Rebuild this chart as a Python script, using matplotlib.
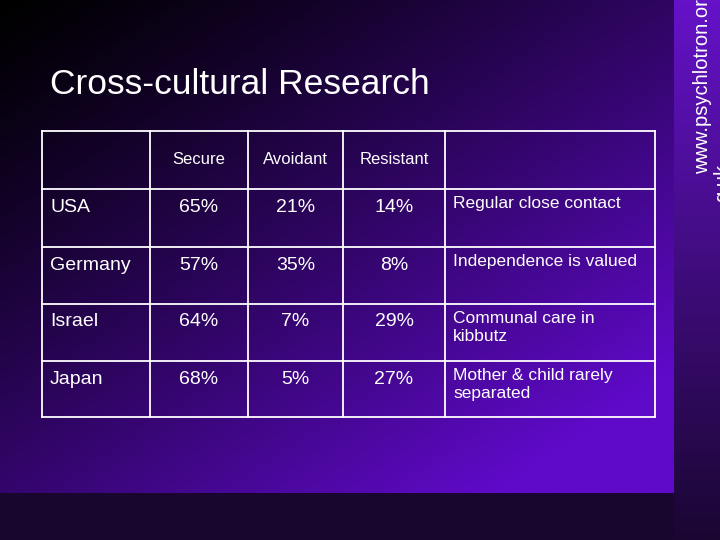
import numpy as np
import matplotlib
matplotlib.use('Agg')
from matplotlib import pyplot as plt
from matplotlib.colors import to_rgb

title = 'Cross-cultural Research'
columns = ['Secure', 'Avoidant', 'Resistant']
countries = ['USA', 'Germany', 'Israel', 'Japan']
secure = ['65%', '57%', '64%', '68%']
avoidant = ['21%', '35%', '7%', '5%']
resistant = ['14%', '8%', '29%', '27%']
notes = ['Regular close contact', 'Independence is valued',
         'Communal care in\nkibbutz', 'Mother & child rarely\nseparated']
watermark = ['www.psychlotron.or', 'g.uk']

W, H = 720, 540
fig = plt.figure(figsize=(W / 100, H / 100), dpi=100)
ax = fig.add_axes([0, 0, 1, 1])
ax.set_xlim(0, W)
ax.set_ylim(H, 0)
ax.axis('off')

# background: dark frame, then diagonal gradient panel and right strip
ax.imshow(np.ones((2, 2, 3)) * np.array(to_rgb('#18062e')), extent=[0, W, H, 0], zorder=0)
px, py = 674, 493
yy, xx = np.mgrid[0:1:200j, 0:1:200j]
t = np.clip(0.55 * xx + 0.6 * yy, 0, 1) ** 1.2
c0, c1 = np.array(to_rgb('#000000')), np.array(to_rgb('#5f0ac8'))
grad = c0 + (c1 - c0) * t[..., None]
ax.imshow(grad, extent=[0, px, py, 0], zorder=1, aspect='auto')
ts = np.linspace(0, 1, 200)[:, None, None]
s0, s1 = np.array(to_rgb('#6512c8')), np.array(to_rgb('#1a0632'))
strip = s0 + (s1 - s0) * ts
ax.imshow(strip, extent=[px, W, H, 0], zorder=1, aspect='auto')

ax.text(50, 84, title, color='white', fontsize=25.5, family='Liberation Sans',
        va='center', ha='left', zorder=3)
ax.text(703, 174, watermark[0], color='white', fontsize=14.5, family='Liberation Sans',
        rotation=90, va='bottom', ha='center', zorder=3)
ax.text(723, 202, watermark[1], color='white', fontsize=14.5, family='Liberation Sans',
        rotation=90, va='bottom', ha='center', zorder=3)

# table grid
xs = [42, 150, 248, 343, 445, 655]
ys = [131, 189, 247, 304, 361, 417]
for x in xs:
    ax.plot([x, x], [ys[0], ys[-1]], color='white', lw=1.3, zorder=3)
for y in ys:
    ax.plot([xs[0], xs[-1]], [y, y], color='white', lw=1.3, zorder=3)

kw = dict(color='white', family='Liberation Sans', zorder=4)
for j, name in enumerate(columns):
    ax.text((xs[j + 1] + xs[j + 2]) / 2, 160, name, ha='center', va='center', fontsize=12, **kw)
for i, c in enumerate(countries):
    y = ys[i + 1] + 18
    ax.text(xs[0] + 8, y, c, ha='left', va='center', fontsize=14, **kw)
    for j, vals in enumerate([secure, avoidant, resistant]):
        ax.text((xs[j + 1] + xs[j + 2]) / 2, y, vals[i], ha='center', va='center', fontsize=14, **kw)
    ax.text(xs[4] + 8, ys[i + 1] + 7, notes[i], ha='left', va='top', fontsize=12.5,
            linespacing=1.25, **kw)

fig.savefig('out.png', dpi=100)
